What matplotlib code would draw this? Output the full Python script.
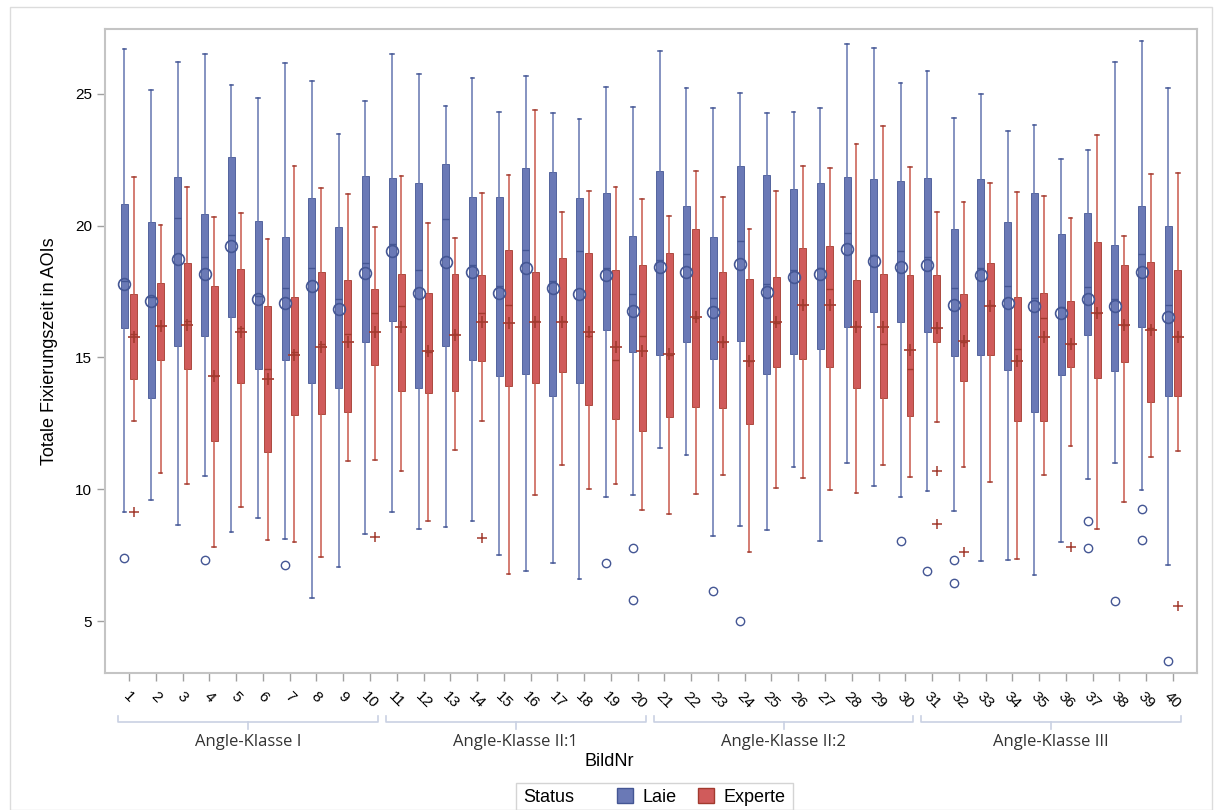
import numpy as np
import matplotlib.pyplot as plt
from matplotlib.patches import Rectangle, Patch
from matplotlib.transforms import blended_transform_factory

plt.rcParams['font.family'] = ['Liberation Sans', 'DejaVu Sans']

# image numbers and their groups
bild_nr = np.arange(1, 41)
groups = ['Angle-Klasse I', 'Angle-Klasse II:1', 'Angle-Klasse II:2', 'Angle-Klasse III']
group_ranges = [(1, 10), (11, 20), (21, 30), (31, 40)]

# Laie: whisker high, Q3, median, mean, Q1, whisker low
laie_whishi = [26.70, 25.15, 26.21, 26.52, 25.34, 24.85, 26.17, 25.49, 23.48, 24.73,
               26.52, 25.76, 24.55, 25.61, 24.32, 25.68, 24.28, 24.05, 25.27, 24.51,
               26.63, 25.23, 24.47, 25.04, 24.28, 24.32, 24.47, 26.89, 26.74, 25.42,
               25.87, 24.09, 25.00, 23.60, 23.83, 22.54, 22.88, 26.21, 27.00, 25.23]
laie_q3 = [20.83, 20.15, 21.86, 20.45, 22.61, 20.19, 19.58, 21.06, 19.96, 21.89,
           21.82, 21.63, 22.35, 21.10, 21.10, 22.20, 22.05, 21.06, 21.25, 19.62,
           22.08, 20.76, 19.58, 22.27, 21.93, 21.40, 21.63, 21.86, 21.78, 21.70,
           21.82, 19.89, 21.78, 20.15, 21.25, 19.70, 20.49, 19.28, 20.76, 20.00]
laie_med = [17.90, 17.30, 20.30, 18.83, 19.66, 17.35, 17.65, 18.41, 17.20, 18.60,
            19.30, 18.30, 20.26, 18.50, 17.70, 19.09, 17.90, 19.05, 18.40, 17.39,
            18.70, 18.94, 17.27, 19.43, 17.80, 18.30, 18.40, 19.73, 18.90, 19.02,
            18.80, 17.65, 18.40, 17.73, 17.27, 16.90, 17.69, 17.20, 18.94, 17.00]
laie_mean = [17.77, 17.16, 18.75, 18.18, 19.24, 17.23, 17.08, 17.73, 16.82, 18.22,
             19.05, 17.46, 18.64, 18.26, 17.46, 18.41, 17.65, 17.42, 18.14, 16.78,
             18.45, 18.26, 16.74, 18.56, 17.50, 18.07, 18.18, 19.13, 18.67, 18.45,
             18.52, 17.00, 18.11, 17.05, 16.97, 16.70, 17.20, 16.97, 18.26, 16.55]
laie_q1 = [16.10, 13.48, 15.42, 15.83, 16.55, 14.55, 14.92, 14.05, 13.86, 15.57,
           16.40, 13.86, 15.45, 14.89, 14.28, 14.36, 13.52, 14.05, 16.06, 15.19,
           15.11, 15.57, 14.96, 15.61, 14.39, 15.15, 15.34, 16.14, 16.74, 16.36,
           15.95, 15.04, 15.11, 14.51, 12.92, 14.32, 15.87, 14.47, 16.17, 13.52]
laie_whislo = [9.13, 9.58, 8.64, 10.49, 8.37, 8.90, 8.11, 5.87, 7.05, 8.30,
               9.13, 8.48, 8.56, 8.79, 7.50, 6.89, 7.20, 6.59, 9.70, 9.77,
               11.55, 11.29, 8.22, 8.60, 8.45, 10.83, 8.03, 10.98, 10.11, 9.70,
               9.92, 9.17, 7.27, 7.31, 6.74, 7.99, 10.38, 10.98, 9.96, 7.12]
laie_out = {1: [7.39], 4: [7.31], 7: [7.12], 19: [7.20], 20: [7.77, 5.80],
            23: [6.14], 24: [5.00], 30: [8.03], 31: [6.89], 32: [7.31, 6.44],
            37: [8.79, 7.77], 38: [5.76], 39: [9.24, 8.07], 40: [3.48]}

# Experte
exp_whishi = [21.86, 20.04, 21.48, 20.34, 20.49, 19.51, 22.27, 21.44, 21.21, 19.96,
              21.89, 20.11, 19.55, 21.25, 21.93, 24.39, 20.53, 21.33, 21.48, 21.02,
              20.38, 22.08, 21.10, 19.89, 21.33, 22.27, 22.20, 23.11, 23.79, 22.23,
              20.53, 20.91, 21.63, 21.29, 21.14, 20.30, 23.45, 19.62, 21.97, 22.00]
exp_q3 = [17.42, 17.84, 18.60, 17.73, 18.37, 16.97, 17.31, 18.26, 17.92, 17.58,
          18.18, 17.46, 18.18, 18.14, 19.09, 18.26, 18.79, 18.98, 18.33, 18.52,
          18.98, 19.89, 18.26, 17.99, 18.07, 19.17, 19.24, 17.92, 18.18, 18.14,
          18.11, 17.42, 18.60, 17.31, 17.46, 17.16, 19.39, 18.52, 18.64, 18.30]
exp_med = [15.90, 16.20, 16.40, 14.30, 16.10, 14.58, 15.20, 15.50, 15.90, 16.70,
           16.97, 15.20, 15.90, 16.70, 17.00, 16.40, 16.40, 15.80, 14.90, 15.80,
           15.10, 16.50, 15.60, 14.85, 16.30, 17.00, 17.60, 16.20, 15.53, 14.58,
           16.10, 15.60, 17.00, 15.34, 16.48, 15.50, 16.70, 16.25, 16.10, 15.80]
exp_mean = [15.76, 16.21, 16.25, 14.28, 15.98, 14.20, 15.11, 15.38, 15.57, 15.98,
            16.17, 15.23, 15.87, 16.36, 16.29, 16.33, 16.36, 15.98, 15.38, 15.23,
            15.15, 16.52, 15.57, 14.85, 16.33, 17.00, 17.00, 16.17, 16.17, 15.27,
            16.10, 15.64, 16.97, 14.85, 15.76, 15.53, 16.70, 16.25, 16.06, 15.76]
exp_q1 = [14.20, 14.89, 14.58, 11.82, 14.02, 11.40, 12.80, 12.84, 12.92, 14.70,
          13.71, 13.64, 13.71, 14.85, 13.90, 14.05, 14.43, 13.18, 12.65, 12.20,
          12.73, 13.14, 13.07, 12.46, 14.62, 14.96, 14.62, 13.83, 13.45, 12.77,
          15.57, 14.09, 15.11, 12.58, 12.58, 14.62, 14.24, 14.81, 13.30, 13.52]
exp_whislo = [12.58, 10.61, 10.19, 7.80, 9.32, 8.07, 7.99, 7.42, 11.06, 11.10,
              10.68, 8.79, 11.48, 12.58, 6.78, 9.77, 10.91, 10.00, 10.19, 9.20,
              9.05, 9.81, 10.53, 7.61, 10.04, 10.42, 9.96, 9.85, 10.91, 10.45,
              12.54, 10.83, 10.26, 7.35, 10.53, 11.63, 8.48, 9.51, 11.21, 11.44]
exp_out = {1: [9.13], 10: [8.18], 14: [8.14], 31: [10.68, 8.67], 32: [7.61],
           36: [7.80], 40: [5.57]}

blue_fill, blue_line = '#6A79B6', '#445694'
red_fill, red_line = '#D05B5B', '#A23A2E'


def make_stats(whishi, q3, med, mean, q1, whislo, outliers):
    stats = []
    for i in range(len(bild_nr)):
        stats.append(dict(whishi=whishi[i], q3=q3[i], med=med[i], mean=mean[i],
                          q1=q1[i], whislo=whislo[i],
                          fliers=outliers.get(i + 1, [])))
    return stats


fig = plt.figure(figsize=(12.17, 8.10), dpi=100)
ax = fig.add_axes([0.0863, 0.1691, 0.8973, 0.7951])


def draw_boxes(stats, pos, fill, line, whisk, mean_marker, flier_marker):
    ax.bxp(stats, positions=pos, widths=0.26, capwidths=0.14,
           patch_artist=True, showmeans=True, manage_ticks=False,
           boxprops=dict(facecolor=fill, edgecolor=line, linewidth=0.6),
           medianprops=dict(color=line, linewidth=1.0),
           whiskerprops=dict(color=whisk, linewidth=1.1),
           capprops=dict(color=line, linewidth=1.1),
           meanprops=mean_marker, flierprops=flier_marker)


draw_boxes(make_stats(laie_whishi, laie_q3, laie_med, laie_mean, laie_q1,
                      laie_whislo, laie_out),
           bild_nr - 0.175, blue_fill, blue_line, '#6575B0',
           dict(marker='o', markerfacecolor='none', markeredgecolor=blue_line,
                markersize=8.5, markeredgewidth=1.2),
           dict(marker='o', markerfacecolor='none', markeredgecolor=blue_line,
                markersize=6, markeredgewidth=1.0))
draw_boxes(make_stats(exp_whishi, exp_q3, exp_med, exp_mean, exp_q1,
                      exp_whislo, exp_out),
           bild_nr + 0.175, red_fill, red_line, '#C9584C',
           dict(marker='+', markeredgecolor=red_line, markersize=9,
                markeredgewidth=1.2),
           dict(marker='+', markeredgecolor=red_line, markersize=7,
                markeredgewidth=1.1))

ax.set_xlim(0.1, 40.9)
ax.set_ylim(3.03, 27.46)
ax.set_yticks([5, 10, 15, 20, 25])
ax.set_xticks(bild_nr)
ax.set_xticklabels([str(n) for n in bild_nr], rotation=-45, ha='center',
                   va='top', fontsize=11)
ax.tick_params(axis='both', colors='#A0A0A0', labelcolor='black', length=6,
               width=1.0, labelsize=11)
ax.tick_params(axis='x', pad=6)
for sp in ax.spines.values():
    sp.set_color('#C4C4C4')
    sp.set_linewidth(1.5)
ax.set_ylabel('Totale Fixierungszeit in AOIs', fontsize=13, labelpad=12)

# group brackets under the tick labels
trans = blended_transform_factory(ax.transData, ax.transAxes)
yb, yup, ydn = -0.076, -0.067, -0.087
for name, (a, b) in zip(groups, group_ranges):
    x0, x1 = a - 0.4, b + 0.3
    ax.plot([x0, x0, x1, x1], [yup, yb, yb, yup], transform=trans,
            color='#C9D1E3', lw=1.2, clip_on=False)
    xc = (x0 + x1) / 2
    ax.plot([xc, xc], [yb, ydn], transform=trans, color='#C9D1E3', lw=1.2,
            clip_on=False)
    ax.text(xc, -0.107, name, transform=trans, ha='center', va='center',
            fontsize=12, color='#333333', family=['Open Sans', 'DejaVu Sans'])

fig.text(609 / 1217, 1 - 762 / 810, 'BildNr', ha='center', va='center',
         fontsize=13)

# legend strip
fig.patches.append(Rectangle((516 / 1217, 0.0), 277 / 1217, 27 / 810,
                             transform=fig.transFigure, fill=False,
                             edgecolor='#D4D4D4', lw=1.0))
fig.text(523 / 1217, 1 - 797 / 810, 'Status', ha='left', va='center',
         fontsize=13)
handles = [Patch(facecolor=blue_fill, edgecolor=blue_line, label='Laie'),
           Patch(facecolor=red_fill, edgecolor=red_line, label='Experte')]
fig.legend(handles=handles, loc='center left',
           bbox_to_anchor=(608 / 1217, 1 - 797 / 810), ncol=2, frameon=False,
           fontsize=13, handlelength=0.9, handleheight=0.9, handletextpad=0.5,
           columnspacing=1.2, borderpad=0.0)

# outer frame
fig.patches.append(Rectangle((10 / 1217, 0.0), 1202 / 1217, 1 - 7 / 810,
                             transform=fig.transFigure, fill=False,
                             edgecolor='#DCDCDC', lw=1.0))

fig.savefig('out.png', dpi=100)
